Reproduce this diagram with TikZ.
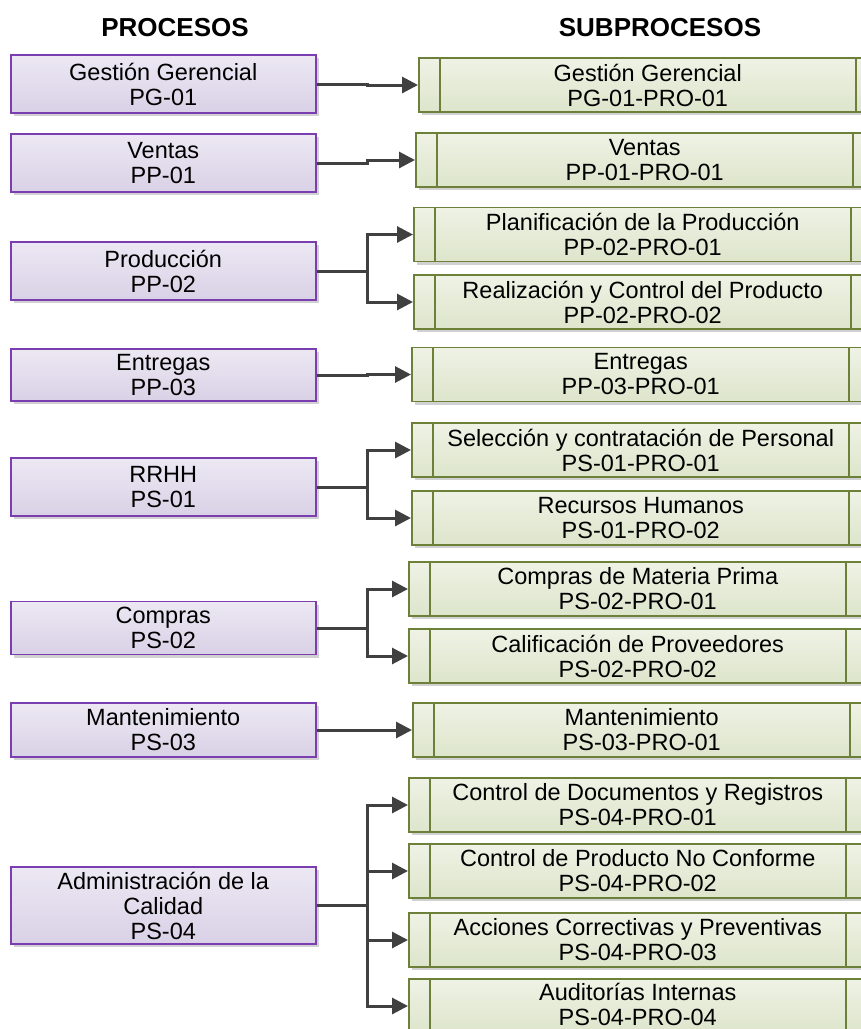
\documentclass[tikz,border=0pt]{standalone}
\usepackage{fontspec}
\setmainfont{Liberation Sans}
\usetikzlibrary{arrows.meta,shadows,positioning}
\definecolor{procline}{RGB}{122,62,176}
\definecolor{proctop}{RGB}{236,232,243}
\definecolor{procbottom}{RGB}{217,209,230}
\definecolor{subline}{RGB}{108,128,58}
\definecolor{subtop}{RGB}{239,242,229}
\definecolor{subbottom}{RGB}{221,229,203}
\definecolor{linkgray}{RGB}{64,64,64}
\tikzset{
  heading/.style = {font=\fontsize{26}{28}\selectfont\bfseries},
  process/.style = {draw=procline, line width=1.5pt, top color=proctop, bottom color=procbottom,
                    anchor=west, minimum width=305pt, minimum height=58pt, align=center,
                    font=\fontsize{23.5}{25}\selectfont,
                    drop shadow={shadow xshift=3pt, shadow yshift=-3pt, fill=black!18, opacity=1}},
  subprocess/.style = {draw=subline, line width=1.5pt, top color=subtop, bottom color=subbottom,
                    anchor=west, minimum width=458pt, minimum height=54pt, align=center,
                    font=\fontsize{23.5}{25}\selectfont,
                    drop shadow={shadow xshift=3pt, shadow yshift=-3pt, fill=black!18, opacity=1},
                    path picture={
                      \draw[subline, line width=1.5pt]
                        ([xshift=21pt]path picture bounding box.south west) -- ([xshift=21pt]path picture bounding box.north west)
                        ([xshift=-21pt]path picture bounding box.south east) -- ([xshift=-21pt]path picture bounding box.north east);
                    }},
  link/.style    = {draw=linkgray, line width=3pt},
  post/.style    = {link, -{Triangle[length=16pt,width=16pt]}}
}

\begin{document}
\begin{tikzpicture}[x=1pt, y=-1pt]
      \clip (0,0) rectangle (861,1029);
      \node[heading] (tproc) at (175,28) {PROCESOS};
      \node[heading] (tsub) at (660,28) {SUBPROCESOS};
      %Procesos
      \node[process] (gerencial) at (10,84) {Gestión Gerencial\\PG-01};
      \node[process] (ventas) at (10,163) {Ventas\\PP-01};
      \node[process] (produccion) at (10,271) {Producción\\PP-02};
      \node[process, minimum height=52pt] (entregas) at (10,375) {Entregas\\PP-03};
      \node[process] (rrhh) at (10,487) {RRHH\\PS-01};
      \node[process, minimum height=53pt] (compras) at (10,628) {Compras\\PS-02};
      \node[process, minimum height=54pt] (mantenimiento) at (10,730) {Mantenimiento\\PS-03};
      \node[process, minimum height=77pt] (calidad) at (10,905.5) {Administración de la\\Calidad\\PS-04};
      %Subprocesos
      \node[subprocess] (gerencialsub) at (418,85) {Gestión Gerencial\\PG-01-PRO-01};
      \node[subprocess] (ventassub) at (415,160) {Ventas\\PP-01-PRO-01};
      \node[subprocess] (planificacion) at (413,234.5) {Planificación de la Producción\\PP-02-PRO-01};
      \node[subprocess] (realizacion) at (413,302) {Realización y Control del Producto\\PP-02-PRO-02};
      \node[subprocess] (entregassub) at (411,374.5) {Entregas\\PP-03-PRO-01};
      \node[subprocess] (seleccion) at (411,450) {Selección y contratación de Personal\\PS-01-PRO-01};
      \node[subprocess] (recursos) at (411,518) {Recursos Humanos\\PS-01-PRO-02};
      \node[subprocess] (materia) at (408,589) {Compras de Materia Prima\\PS-02-PRO-01};
      \node[subprocess] (proveedores) at (408,656) {Calificación de Proveedores\\PS-02-PRO-02};
      \node[subprocess] (mantsub) at (412,730) {Mantenimiento\\PS-03-PRO-01};
      \node[subprocess] (documentos) at (408,805) {Control de Documentos y Registros\\PS-04-PRO-01};
      \node[subprocess] (noconforme) at (408,871) {Control de Producto No Conforme\\PS-04-PRO-02};
      \node[subprocess] (correctivas) at (408,940) {Acciones Correctivas y Preventivas\\PS-04-PRO-03};
      \node[subprocess, text depth=4pt] (auditorias) at (408,1006) {Auditorías Internas\\PS-04-PRO-04};
      %Conectores
      \draw[post] (gerencial.east) -- ([xshift=51pt]gerencial.east) |- (gerencialsub.west);
      \draw[post] (ventas.east) -- ([xshift=51pt]ventas.east) |- (ventassub.west);
      \draw[link] (produccion.east) -- ++(51,0);
      \draw[post] ([xshift=51pt]produccion.east) |- (planificacion.west);
      \draw[post] ([xshift=51pt]produccion.east) |- (realizacion.west);
      \draw[post] (entregas.east) -- ([xshift=51pt]entregas.east) |- (entregassub.west);
      \draw[link] (rrhh.east) -- ++(51,0);
      \draw[post] ([xshift=51pt]rrhh.east) |- (seleccion.west);
      \draw[post] ([xshift=51pt]rrhh.east) |- (recursos.west);
      \draw[link] (compras.east) -- ++(51,0);
      \draw[post] ([xshift=51pt]compras.east) |- (materia.west);
      \draw[post] ([xshift=51pt]compras.east) |- (proveedores.west);
      \draw[post] (mantenimiento.east) -- ([xshift=51pt]mantenimiento.east) |- (mantsub.west);
      \draw[link] (calidad.east) -- ++(51,0);
      \draw[post] ([xshift=51pt]calidad.east) |- (documentos.west);
      \draw[post] ([xshift=51pt]calidad.east) |- (noconforme.west);
      \draw[post] ([xshift=51pt]calidad.east) |- (correctivas.west);
      \draw[post] ([xshift=51pt]calidad.east) |- (auditorias.west);
\end{tikzpicture}
\end{document}
